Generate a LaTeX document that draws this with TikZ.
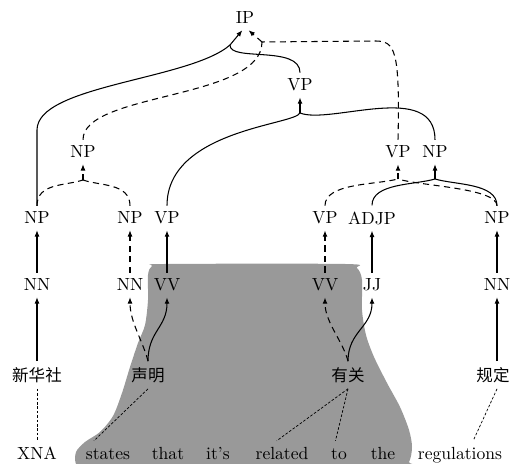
\documentclass[tikz,border=0pt]{standalone}
\usepackage{fontspec}
\newfontfamily\cjk{Noto Sans CJK SC}
\usetikzlibrary{arrows.meta}
\definecolor{blobgray}{RGB}{153,153,153}

\begin{document}
\begin{tikzpicture}[>={Latex[length=3.6pt,width=2.8pt]}]
\useasboundingbox (0,0) rectangle (10.2,9.28);
\tikzstyle{tree}=[line width=0.6pt]
\tikzstyle{dep}=[tree, dash pattern=on 3.5pt off 2.5pt]
\tikzstyle{link}=[line width=0.4pt, dash pattern=on 1.5pt off 1pt]
\tikzstyle{zh}=[font=\cjk\fontsize{9.4pt}{11pt}\selectfont]
\tikzstyle{en}=[text height=1.6ex, text depth=0.25ex]

\fill[blobgray] plot[smooth cycle, tension=0.5] coordinates {
  (1.52,0.24) (1.7,0.44) (2.0,0.64) (2.26,0.96) (2.44,1.42) (2.6,1.94)
  (2.76,2.42) (2.9,2.78) (2.96,3.28) (2.96,3.78) (3.04,3.96) (3.3,4.0)
  (6.9,4.0) (7.14,3.92) (7.24,3.68) (7.24,3.08) (7.32,2.58) (7.48,2.14)
  (7.74,1.62) (8.0,1.14) (8.18,0.68) (8.24,0.34) (8.18,0.04) (7.98,-0.1)
  (1.7,-0.1) (1.52,0.0)};

\node (v0) at (4.9, 8.92) {IP};
\node (v1) at (6.0, 7.58) {VP};
\node (v2) at (1.66, 6.24) {NP};
\node (v3) at (7.96, 6.24) {VP};
\node (v4) at (8.7, 6.24) {NP};
\node (p0) at (0.74, 4.92) {NP};
\node (p1) at (2.6, 4.92) {NP};
\node (p2) at (3.34, 4.92) {VP};
\node (p3) at (6.5, 4.92) {VP};
\node (p4) at (7.44, 4.92) {ADJP};
\node (p5) at (9.94, 4.92) {NP};
\node (t0) at (0.74, 3.58) {NN};
\node (t1) at (2.6, 3.58) {NN};
\node (t2) at (3.34, 3.58) {VV};
\node (t3) at (6.5, 3.58) {VV};
\node (t4) at (7.44, 3.58) {JJ};
\node (t5) at (9.94, 3.58) {NN};
\node[zh] (c0) at (0.74, 1.78) {新华社};
\node[zh] (c1) at (2.96, 1.78) {声明};
\node[zh] (c2) at (6.96, 1.78) {有关};
\node[zh] (c3) at (9.86, 1.78) {规定};
\node[en] (w0) at (0.74, 0.2) {XNA};
\node[en] (w1) at (2.16, 0.2) {states};
\node[en] (w2) at (3.36, 0.2) {that};
\node[en] (w3) at (4.36, 0.2) {it's};
\node[en] (w4) at (5.64, 0.2) {related};
\node[en] (w5) at (6.78, 0.2) {to};
\node[en] (w6) at (7.66, 0.2) {the};
\node[en] (w7) at (9.2, 0.2) {regulations};

\coordinate (m0) at (4.6, 8.38);
\coordinate (m1) at (5.24, 8.44);
\coordinate (m2) at (6.0, 7.02);
\coordinate (m3) at (1.66, 5.68);
\coordinate (m4) at (7.96, 5.7);
\coordinate (m5) at (8.7, 5.7);

\draw[tree] (p0.north) -- (0.74, 6.68) .. controls (0.74, 7.58) and (3.8, 7.68) .. (m0);
\draw[tree] (v1.north) .. controls (6.0, 8.38) and (4.58, 8.04) .. (m0);
\draw[tree, ->] (m0) -- ([xshift=-1.5pt]v0.south);
\draw[dep] (v2.north) .. controls (1.66, 7.44) and (5.24, 7.28) .. (m1);
\draw[dep] (v3.north) .. controls (8.0, 8.3) and (7.9, 8.46) .. (7.5, 8.46) -- (m1);
\draw[dep, ->] (m1) -- ([xshift=2pt]v0.south);

\draw[tree] (p2.north) .. controls (3.34, 6.68) and (5.9, 6.78) .. (m2);
\draw[tree] (v4.north) .. controls (8.7, 7.68) and (6.6, 6.78) .. (m2);
\draw[tree, ->] (m2) -- (v1.south);

\draw[dep] (p0.north) .. controls (0.74, 5.62) and (1.3, 5.56) .. (m3);
\draw[dep] (p1.north) .. controls (2.6, 5.62) and (2.0, 5.56) .. (m3);
\draw[dep, ->] (m3) -- (v2.south);
\draw[dep] (p3.north) .. controls (6.5, 5.62) and (7.5, 5.58) .. (m4);
\draw[dep] (p5.north) .. controls (9.94, 5.52) and (8.4, 5.56) .. (m4);
\draw[dep, ->] (m4) -- (v3.south);
\draw[tree] (p4.north) .. controls (7.44, 5.62) and (8.3, 5.58) .. (m5);
\draw[tree] (p5.north) .. controls (9.94, 5.62) and (9.1, 5.58) .. (m5);
\draw[tree, ->] (m5) -- (v4.south);

\draw[tree, ->] (t0) -- (p0);
\draw[dep, ->] (t1) -- (p1);
\draw[tree, ->] (t2) -- (p2);
\draw[dep, ->] (t3) -- (p3);
\draw[tree, ->] (t4) -- (p4);
\draw[tree, ->] (t5) -- (p5);

\draw[tree, ->] (c0) -- (t0);
\draw[dep, ->] (c1.north) .. controls +(-0.1, 0.4) and +(0, -0.5) .. (t1.south);
\draw[tree, ->] (c1.north) .. controls +(0, 0.6) and +(0, -0.6) .. (t2.south);
\draw[dep, ->] (c2.north) .. controls +(-0.1, 0.4) and +(0, -0.5) .. (t3.south);
\draw[tree, ->] (c2.north) .. controls +(0, 0.6) and +(0, -0.6) .. (t4.south);
\draw[tree, ->] (c3.north -| t5) -- (t5.south);

\draw[link] (c0) -- (w0);
\draw[link] (c1.south) -- ([xshift=-8pt]w1.north);
\draw[link] (c2.south) -- ([xshift=-3pt]w4.north);
\draw[link] (c2.south) -- ([xshift=-2pt]w5.north);
\draw[link] (c3.south -| t5) -- ([xshift=7.5pt]w7.north);
\end{tikzpicture}
\end{document}
